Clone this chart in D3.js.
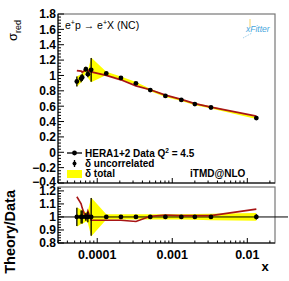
<!DOCTYPE html>
<html>
<head>
	<meta charset="utf-8">
	<title>sigma red</title>
	<style>
		body{ margin:0; background:#fff; }
		text{ font-family:"Liberation Sans", Arial, sans-serif; }
		.lbl{ font-weight:bold; }
	</style>
	<script src="https://d3js.org/d3.v7.min.js"></script>
</head>
<body>
<svg width="289" height="281"></svg>
<script>

	// HERA1+2 NC e+p, Q^2 = 4.5
	var xVals    = [5.35e-5, 6.1e-5, 6.3e-5, 7.06e-5, 7.5e-5, 8.3e-5, 1.32e-4, 2.07e-4, 3.28e-4, 5.09e-4, 8.1e-4, 1.32e-3, 2.0e-3, 3.28e-3, 1.32e-2];
	var sigma    = [0.921, 0.960, 0.975, 1.082, 1.017, 1.073, 1.027, 0.968, 0.897, 0.810, 0.733, 0.681, 0.627, 0.583, 0.445];
	var relUncor = [0.070, 0.050, 0.050, 0.030, 0.040, 0.145, 0.012, 0.010, 0.010, 0.010, 0.010, 0.010, 0.010, 0.012, 0.020];
	var relTotal = [0.075, 0.055, 0.055, 0.035, 0.045, 0.150, 0.020, 0.020, 0.020, 0.020, 0.020, 0.020, 0.022, 0.025, 0.030];
	// theory / data for iTMD@NLO
	var ratio    = [1.155, 1.100, 1.070, 0.990, 1.045, 0.975, 0.975, 0.975, 0.965, 1.005, 1.015, 1.010, 1.010, 1.010, 1.060];

	var yTicks = [-0.4, -0.2, 0, 0.2, 0.4, 0.6, 0.8, 1, 1.2, 1.4, 1.6, 1.8];
	var rTicks = [0.8, 0.9, 1, 1.1, 1.2];
	var xTicks = [1e-4, 1e-3, 1e-2];
	var xTickLabels = ["0.0001", "0.001", "0.01"];

	var svg = d3.select("svg");
	var left = 58, right = 275,
	    top1 = 14, bot1 = 183,
	    top2 = 187, bot2 = 243;

	var x = d3.scaleLog().domain([3.0e-5, 0.0234]).range([left, right]);
	var y = d3.scaleLinear().domain([-0.4, 1.8]).range([bot1, top1]);
	var yr = d3.scaleLinear().domain([0.8, 1.23]).range([bot2, top2]);

	var pts = xVals.map(function(v, i){
		return {x:v, s:sigma[i], eu:relUncor[i]*sigma[i], et:relTotal[i]*sigma[i],
		        r:ratio[i], th:ratio[i]*sigma[i], ru:relUncor[i], rt:relTotal[i]};
	});

	var red = "#a81515", yellow = "#ffff00";

	// ---- frames
	[[top1, bot1], [top2, bot2]].forEach(function(f){
		svg.append("rect").attr("x", left).attr("y", f[0])
		   .attr("width", right-left).attr("height", f[1]-f[0])
		   .attr("fill", "none").attr("stroke", "#777").attr("stroke-width", 1.2);
	});

	// ---- upper panel
	var up = svg.append("g");
	up.append("path").datum(pts)
	  .attr("fill", yellow)
	  .attr("d", d3.area().x(function(d){return x(d.x);})
	              .y0(function(d){return y(d.s-d.et);})
	              .y1(function(d){return y(d.s+d.et);}));
	up.append("path").datum(pts)
	  .attr("fill", "none").attr("stroke", red).attr("stroke-width", 1.8)
	  .attr("d", d3.line().x(function(d){return x(d.x);}).y(function(d){return y(d.th);}));
	up.selectAll(".eb").data(pts).enter().append("line")
	  .attr("x1", function(d){return x(d.x);}).attr("x2", function(d){return x(d.x);})
	  .attr("y1", function(d){return y(d.s-d.eu);}).attr("y2", function(d){return y(d.s+d.eu);})
	  .attr("stroke", "#000").attr("stroke-width", 1.3);
	up.selectAll(".dot").data(pts).enter().append("circle")
	  .attr("cx", function(d){return x(d.x);}).attr("cy", function(d){return y(d.s);})
	  .attr("r", 2.4).attr("fill", "#000");

	// ---- lower panel
	var lo = svg.append("g");
	lo.append("path").datum(pts)
	  .attr("fill", yellow)
	  .attr("d", d3.area().x(function(d){return x(d.x);})
	              .y0(function(d){return yr(1-d.rt);})
	              .y1(function(d){return yr(1+d.rt);}));
	lo.append("line").attr("x1", left).attr("x2", 288)
	  .attr("y1", yr(1)).attr("y2", yr(1)).attr("stroke", "#000").attr("stroke-width", 1);
	lo.append("path").datum(pts)
	  .attr("fill", "none").attr("stroke", red).attr("stroke-width", 1.6)
	  .attr("d", d3.line().x(function(d){return x(d.x);}).y(function(d){return yr(d.r);}));
	lo.selectAll(".eb").data(pts).enter().append("line")
	  .attr("x1", function(d){return x(d.x);}).attr("x2", function(d){return x(d.x);})
	  .attr("y1", function(d){return yr(1-d.ru);}).attr("y2", function(d){return yr(1+d.ru);})
	  .attr("stroke", "#000").attr("stroke-width", 1.3);
	lo.selectAll(".dot").data(pts).enter().append("circle")
	  .attr("cx", function(d){return x(d.x);}).attr("cy", yr(1))
	  .attr("r", 2.4).attr("fill", "#000");

	// ---- axes (ROOT style: ticks inside)
	function yAxis(scale, major, step, nsub, fs, nudge){
		var d = scale.domain(), v, ax = svg.append("g");
		ax.append("line").attr("x1", left).attr("x2", left)
		  .attr("y1", scale.range()[0]).attr("y2", scale.range()[1])
		  .attr("stroke", "#000");
		for(v = d[0]; v <= d[1] + 1e-9; v += step/nsub){
			var isMaj = major.some(function(m){return Math.abs(m-v) < 1e-6;});
			ax.append("line").attr("x1", left).attr("x2", left + (isMaj ? 6 : 3))
			  .attr("y1", scale(v)).attr("y2", scale(v)).attr("stroke", "#000");
		}
		ax.selectAll("text").data(major).enter().append("text")
		  .attr("class", "lbl").attr("x", left - 2)
		  .attr("y", function(m){return scale(m) + (nudge[m] || 0);})
		  .attr("dy", "0.36em").attr("text-anchor", "end").attr("font-size", fs)
		  .text(function(m){ return String(+m.toFixed(1)).replace("-", "\u2212"); });
	}
	yAxis(y, yTicks, 0.2, 5, 12, {"-0.4": -1.5});
	yAxis(yr, rTicks, 0.1, 5, 12, {});

	function xAxis(yPos, withLabels){
		var ax = svg.append("g");
		ax.append("line").attr("x1", left).attr("x2", right).attr("y1", yPos).attr("y2", yPos)
		  .attr("stroke", "#000");
		x.ticks().forEach(function(t){
			var isMaj = xTicks.some(function(m){return Math.abs(Math.log10(m/t)) < 1e-6;});
			ax.append("line").attr("x1", x(t)).attr("x2", x(t))
			  .attr("y1", yPos).attr("y2", yPos - (isMaj ? 5 : 2.5)).attr("stroke", "#000");
		});
		if(withLabels){
			ax.selectAll("text").data(xTicks).enter().append("text")
			  .attr("class", "lbl").attr("x", function(t){return x(t);}).attr("y", yPos + 16)
			  .attr("text-anchor", "middle").attr("font-size", 12.5)
			  .text(function(t, i){return xTickLabels[i];});
		}
	}
	xAxis(bot1, false);
	xAxis(bot2, true);

	// ---- titles
	svg.append("text").attr("transform", "translate(17,20) rotate(-90)")
	   .attr("text-anchor", "end").attr("font-size", 13)
	   .html('\u03c3<tspan dy="4" font-size="9">red</tspan>');
	svg.append("text").attr("class", "lbl").attr("transform", "translate(15,190) rotate(-90)")
	   .attr("text-anchor", "end").attr("font-size", 14.5).text("Theory/Data");
	svg.append("text").attr("class", "lbl").attr("x", 265).attr("y", 271)
	   .attr("text-anchor", "middle").attr("font-size", 13).text("x");

	svg.append("text").attr("x", 65).attr("y", 29).attr("font-size", 10.5)
	   .html('e<tspan dy="-4" font-size="7">+</tspan><tspan dy="4">p \u2192 e</tspan><tspan dy="-4" font-size="7">+</tspan><tspan dy="4">X (NC)</tspan>');

	// xFitter logo
	var logo = svg.append("g");
	logo.append("line").attr("x1", 250).attr("x2", 250).attr("y1", 19).attr("y2", 27)
	    .attr("stroke", "#f3d36b").attr("stroke-width", 1);
	logo.append("line").attr("x1", 243).attr("x2", 252).attr("y1", 38).attr("y2", 33)
	    .attr("stroke", "#8fc8e8").attr("stroke-width", 1).attr("stroke-dasharray", "1,1");
	logo.append("text").attr("x", 246).attr("y", 32).attr("font-size", 8.5)
	    .attr("font-style", "italic").attr("fill", "#45a6dc").text("xFitter");

	// ---- legend
	var lg = svg.append("g").attr("class", "lbl").attr("font-size", 10);
	lg.append("line").attr("x1", 67).attr("x2", 82).attr("y1", 153).attr("y2", 153).attr("stroke", "#000").attr("stroke-width", 1.3);
	lg.append("circle").attr("cx", 74.5).attr("cy", 153).attr("r", 2.4);
	lg.append("text").attr("x", 85).attr("y", 156.5)
	  .html('HERA1+2 Data Q<tspan dy="-4" font-size="6.5">2</tspan><tspan dy="4"> = 4.5</tspan>');
	lg.append("line").attr("x1", 74.5).attr("x2", 74.5).attr("y1", 160).attr("y2", 167).attr("stroke", "#000").attr("stroke-width", 1.3);
	lg.append("circle").attr("cx", 74.5).attr("cy", 163.5).attr("r", 2);
	lg.append("text").attr("x", 85).attr("y", 166.5).text("\u03b4 uncorrelated");
	lg.append("rect").attr("x", 67).attr("y", 170).attr("width", 15).attr("height", 8).attr("fill", yellow);
	lg.append("text").attr("x", 85).attr("y", 176.5).text("\u03b4 total");
	lg.append("text").attr("x", 190).attr("y", 176.5).text("iTMD@NLO");

</script>
</body>
</html>
